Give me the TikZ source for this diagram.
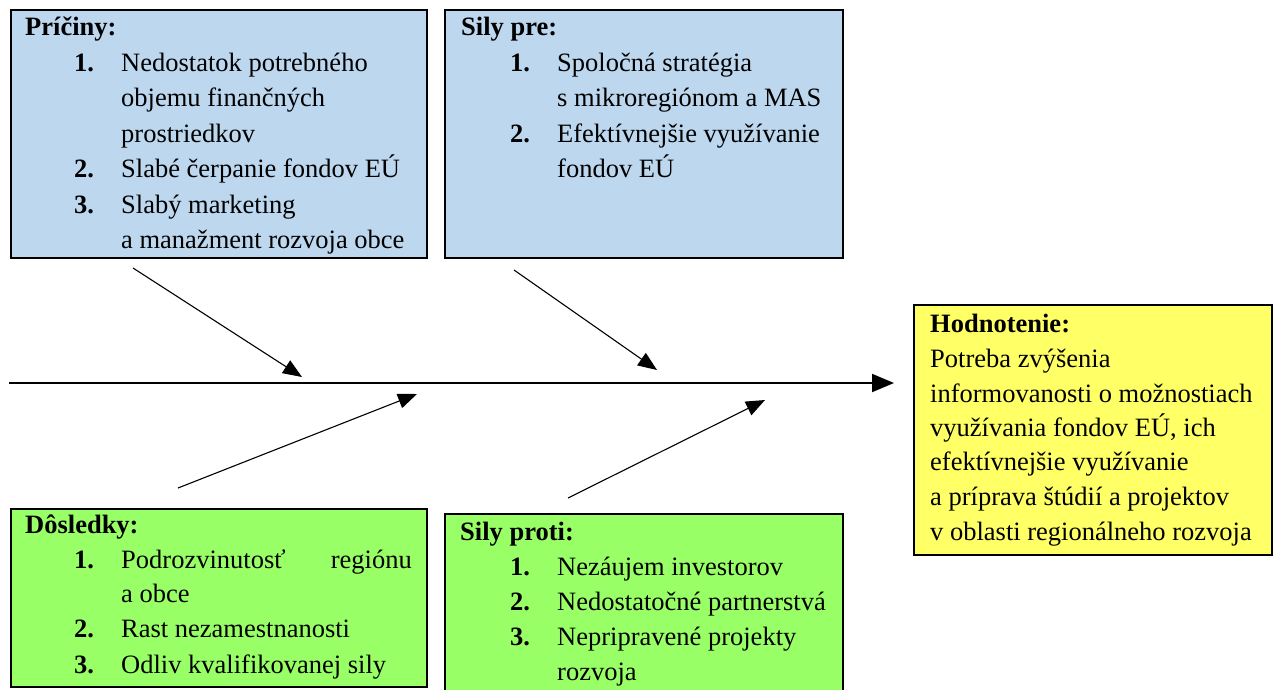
\documentclass[tikz,border=0pt]{standalone}
\usepackage{fontspec}
\setmainfont{Liberation Serif}
\usetikzlibrary{arrows.meta}
\definecolor{boxblue}{HTML}{BDD7EE}
\definecolor{boxgreen}{HTML}{99FF66}
\definecolor{boxyellow}{HTML}{FFFF66}
\begin{document}
\begin{tikzpicture}[x=1pt,y=-1pt,
  panel/.style={draw=black, line width=2.2pt, anchor=north west, inner sep=0pt, outer sep=0pt},
  txt/.style={anchor=base west, inner sep=0pt, font=\fontsize{26.5}{32}\selectfont},
  ttl/.style={anchor=base west, inner sep=0pt, font=\fontsize{26.5}{32}\selectfont\bfseries},
  spoke/.style={line width=1.1pt, -{Triangle[length=19pt,width=15pt]}},
  spine/.style={line width=2pt, -{Triangle[length=22pt,width=18pt]}}]
\useasboundingbox (0,0) rectangle (1274,689);

% boxes
\node[panel, fill=boxblue, minimum width=416pt, minimum height=248pt] (b1) at (11,10) {};
\node[panel, fill=boxblue, minimum width=398pt, minimum height=248pt] (b2) at (445,10) {};
\node[panel, fill=boxgreen, minimum width=416pt, minimum height=178pt] (b3) at (11,509) {};
\node[panel, fill=boxgreen, minimum width=398pt, minimum height=200pt] (b4) at (445,514) {};
\node[panel, fill=boxyellow, minimum width=358pt, minimum height=250pt] (b5) at (914,305) {};

% box 1
\node[ttl] (t1) at (25,35) {Príčiny:};
\node[ttl] (n11) at (74,71) {1.};
\node[txt] (l11) at (121,71) {Nedostatok potrebného};
\node[txt] (l12) at (121,106) {objemu finančných};
\node[txt] (l13) at (121,142) {prostriedkov};
\node[ttl] (n12) at (74,177) {2.};
\node[txt] (l14) at (121,177) {Slabé čerpanie fondov EÚ};
\node[ttl] (n13) at (74,213) {3.};
\node[txt] (l15) at (121,213) {Slabý marketing};
\node[txt] (l16) at (121,248) {a manažment rozvoja obce};

% box 2
\node[ttl] (t2) at (461,35) {Sily pre:};
\node[ttl] (n21) at (510,71) {1.};
\node[txt] (l21) at (557,71) {Spoločná stratégia};
\node[txt] (l22) at (557,106) {s mikroregiónom a MAS};
\node[ttl] (n22) at (510,142) {2.};
\node[txt] (l23) at (557,142) {Efektívnejšie využívanie};
\node[txt] (l24) at (557,177) {fondov EÚ};

% box 3
\node[ttl] (t3) at (25,533) {Dôsledky:};
\node[ttl] (n31) at (74,568) {1.};
\node[txt] (l31) at (121,568) {Podrozvinutosť};
\node[txt, anchor=base east] (l31b) at (412,568) {regiónu};
\node[txt] (l32) at (121,602) {a obce};
\node[ttl] (n32) at (74,637) {2.};
\node[txt] (l33) at (121,637) {Rast nezamestnanosti};
\node[ttl] (n33) at (74,673) {3.};
\node[txt] (l34) at (121,673) {Odliv kvalifikovanej sily};

% box 4
\node[ttl] (t4) at (460,540) {Sily proti:};
\node[ttl] (n41) at (510,575) {1.};
\node[txt] (l41) at (557,575) {Nezáujem investorov};
\node[ttl] (n42) at (510,610) {2.};
\node[txt] (l42) at (557,610) {Nedostatočné partnerstvá};
\node[ttl] (n43) at (510,645) {3.};
\node[txt] (l43) at (557,645) {Nepripravené projekty};
\node[txt] (l44) at (557,680) {rozvoja};

% box 5
\node[ttl] (t5) at (930,332) {Hodnotenie:};
\node[txt] (l51) at (930,367) {Potreba zvýšenia};
\node[txt] (l52) at (930,402) {informovanosti o možnostiach};
\node[txt] (l53) at (930,436) {využívania fondov EÚ, ich};
\node[txt] (l54) at (930,470) {efektívnejšie využívanie};
\node[txt] (l55) at (930,505) {a príprava štúdií a projektov};
\node[txt] (l56) at (930,540) {v oblasti regionálneho rozvoja};

% arrows
\coordinate (spL) at (9,383);
\coordinate (spR) at (894,383);
\coordinate (a1s) at (133,268);
\coordinate (a1e) at (302,377);
\coordinate (a2s) at (514,270);
\coordinate (a2e) at (657,370);
\coordinate (a3s) at (178,488);
\coordinate (a3e) at (417,394);
\coordinate (a4s) at (568,498);
\coordinate (a4e) at (765,400);

\draw[spine] (spL) -- (spR);
\draw[spoke] (a1s) -- (a1e);
\draw[spoke] (a2s) -- (a2e);
\draw[spoke] (a3s) -- (a3e);
\draw[spoke] (a4s) -- (a4e);
\end{tikzpicture}
\end{document}
